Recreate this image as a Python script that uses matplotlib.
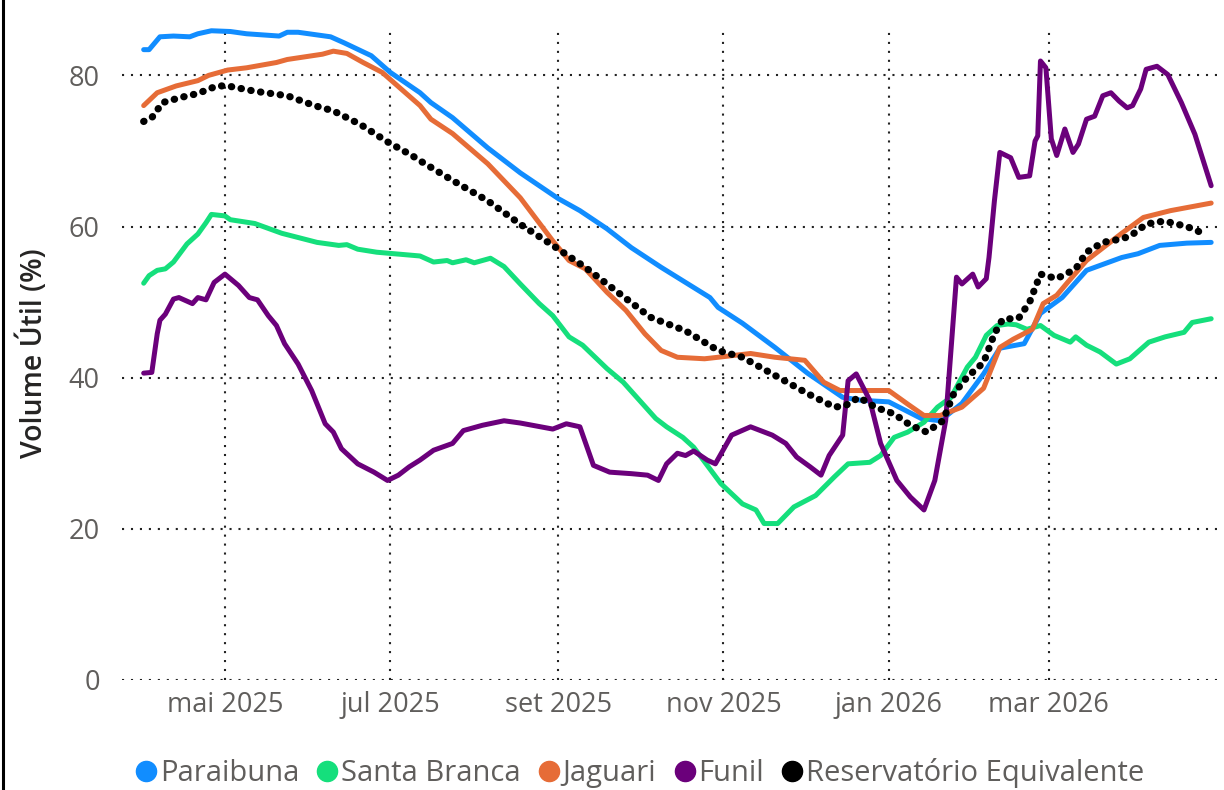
import matplotlib
matplotlib.use("Agg")
import matplotlib.pyplot as plt
import pandas as pd
from matplotlib.lines import Line2D

# ---------------- data ----------------
paraibuna_dates = ["2025-04-01", "2025-04-03", "2025-04-07", "2025-04-12", "2025-04-18", "2025-04-21",
                   "2025-04-26", "2025-05-03", "2025-05-09", "2025-05-21", "2025-05-24", "2025-05-28",
                   "2025-06-09", "2025-06-14", "2025-06-24", "2025-07-01", "2025-07-12", "2025-07-16",
                   "2025-07-24", "2025-08-06", "2025-08-18", "2025-09-01", "2025-09-09", "2025-09-19",
                   "2025-09-28", "2025-10-09", "2025-10-18", "2025-10-27", "2025-10-30", "2025-11-08",
                   "2025-11-20", "2025-12-02", "2025-12-15", "2025-12-22", "2026-01-01", "2026-01-13",
                   "2026-01-20", "2026-01-28", "2026-02-05", "2026-02-11", "2026-02-20", "2026-02-26",
                   "2026-03-06", "2026-03-15", "2026-03-28", "2026-04-03", "2026-04-11", "2026-04-21",
                   "2026-04-30"]
paraibuna_vals = [83.4, 83.4, 85.1, 85.2, 85.1, 85.5,
                  85.9, 85.8, 85.5, 85.2, 85.7, 85.7,
                  85.1, 84.3, 82.6, 80.4, 77.7, 76.4,
                  74.4, 70.4, 67.1, 63.7, 62.1, 59.7,
                  57.2, 54.6, 52.6, 50.6, 49.3, 47.2,
                  44.0, 40.6, 37.4, 37.0, 36.8, 34.6,
                  34.3, 36.6, 40.5, 43.9, 44.5, 48.5,
                  50.6, 54.2, 55.9, 56.4, 57.5, 57.8,
                  57.9]

santa_branca_dates = ["2025-04-01", "2025-04-03", "2025-04-06", "2025-04-09", "2025-04-12", "2025-04-17",
                      "2025-04-21", "2025-04-24", "2025-04-26", "2025-05-01", "2025-05-03", "2025-05-12",
                      "2025-05-22", "2025-06-04", "2025-06-12", "2025-06-15", "2025-06-19", "2025-06-26",
                      "2025-07-12", "2025-07-17", "2025-07-22", "2025-07-24", "2025-07-29", "2025-08-01",
                      "2025-08-07", "2025-08-12", "2025-08-18", "2025-08-25", "2025-08-30", "2025-09-05",
                      "2025-09-10", "2025-09-19", "2025-09-25", "2025-09-30", "2025-10-07", "2025-10-11",
                      "2025-10-17", "2025-10-21", "2025-10-26", "2025-10-31", "2025-11-08", "2025-11-13",
                      "2025-11-16", "2025-11-21", "2025-11-27", "2025-12-05", "2025-12-12", "2025-12-17",
                      "2025-12-25", "2025-12-29", "2026-01-03", "2026-01-08", "2026-01-14", "2026-01-19",
                      "2026-01-24", "2026-01-30", "2026-02-02", "2026-02-06", "2026-02-10", "2026-02-14",
                      "2026-02-17", "2026-02-21", "2026-02-26", "2026-03-03", "2026-03-09", "2026-03-11",
                      "2026-03-15", "2026-03-20", "2026-03-26", "2026-03-31", "2026-04-07", "2026-04-13",
                      "2026-04-20", "2026-04-23", "2026-04-30"]
santa_branca_vals = [52.5, 53.5, 54.2, 54.4, 55.3, 57.7,
                     59.0, 60.5, 61.6, 61.4, 60.9, 60.4,
                     59.1, 57.9, 57.5, 57.6, 57.0, 56.6,
                     56.1, 55.3, 55.5, 55.2, 55.6, 55.2,
                     55.8, 54.7, 52.4, 49.8, 48.2, 45.4,
                     44.3, 41.2, 39.4, 37.4, 34.6, 33.5,
                     32.1, 30.8, 28.4, 26.0, 23.3, 22.5,
                     20.7, 20.7, 22.9, 24.4, 26.9, 28.6,
                     28.8, 29.7, 32.1, 32.8, 34.1, 36.1,
                     37.4, 41.4, 42.7, 45.6, 46.9, 47.1,
                     47.0, 46.4, 46.9, 45.6, 44.7, 45.4,
                     44.3, 43.4, 41.8, 42.5, 44.7, 45.4,
                     46.0, 47.3, 47.8]

jaguari_dates = ["2025-04-01", "2025-04-06", "2025-04-13", "2025-04-21", "2025-04-25", "2025-05-02",
                 "2025-05-09", "2025-05-20", "2025-05-24", "2025-06-06", "2025-06-10", "2025-06-15",
                 "2025-06-21", "2025-06-28", "2025-07-12", "2025-07-16", "2025-07-24", "2025-08-06",
                 "2025-08-18", "2025-08-30", "2025-09-05", "2025-09-11", "2025-09-19", "2025-09-26",
                 "2025-10-03", "2025-10-09", "2025-10-15", "2025-10-25", "2025-10-30", "2025-11-11",
                 "2025-11-20", "2025-12-01", "2025-12-08", "2025-12-14", "2026-01-01", "2026-01-08",
                 "2026-01-14", "2026-01-20", "2026-01-28", "2026-02-05", "2026-02-11", "2026-02-16",
                 "2026-02-23", "2026-02-27", "2026-03-04", "2026-03-08", "2026-03-15", "2026-03-28",
                 "2026-04-05", "2026-04-15", "2026-04-30"]
jaguari_vals = [76.0, 77.7, 78.6, 79.3, 80.0, 80.7,
                81.0, 81.7, 82.1, 82.8, 83.2, 82.9,
                81.7, 80.4, 76.0, 74.2, 72.3, 68.3,
                63.8, 58.1, 55.5, 54.4, 51.3, 48.9,
                45.8, 43.6, 42.7, 42.5, 42.7, 43.2,
                42.7, 42.3, 39.4, 38.3, 38.3, 36.5,
                35.0, 35.0, 36.1, 38.6, 44.0, 45.1,
                46.4, 49.8, 50.9, 52.6, 55.5, 59.1,
                61.2, 62.1, 63.1]

funil_dates = ["2025-04-01", "2025-04-04", "2025-04-06", "2025-04-07", "2025-04-09", "2025-04-12",
               "2025-04-14", "2025-04-19", "2025-04-21", "2025-04-24", "2025-04-27", "2025-05-01",
               "2025-05-06", "2025-05-10", "2025-05-13", "2025-05-17", "2025-05-20", "2025-05-23",
               "2025-05-28", "2025-06-02", "2025-06-07", "2025-06-10", "2025-06-13", "2025-06-19",
               "2025-06-25", "2025-06-30", "2025-07-04", "2025-07-08", "2025-07-12", "2025-07-17",
               "2025-07-24", "2025-07-28", "2025-08-04", "2025-08-12", "2025-08-18", "2025-08-30",
               "2025-09-04", "2025-09-09", "2025-09-14", "2025-09-20", "2025-09-28", "2025-10-04",
               "2025-10-08", "2025-10-11", "2025-10-15", "2025-10-18", "2025-10-21", "2025-10-26",
               "2025-10-29", "2025-11-04", "2025-11-11", "2025-11-19", "2025-11-24", "2025-11-28",
               "2025-12-03", "2025-12-07", "2025-12-10", "2025-12-15", "2025-12-17", "2025-12-20",
               "2025-12-25", "2025-12-29", "2026-01-04", "2026-01-09", "2026-01-14", "2026-01-18",
               "2026-01-22", "2026-01-26", "2026-01-28", "2026-02-01", "2026-02-03", "2026-02-06",
               "2026-02-07", "2026-02-09", "2026-02-11", "2026-02-15", "2026-02-18", "2026-02-22",
               "2026-02-24", "2026-02-25", "2026-02-26", "2026-02-28", "2026-03-02", "2026-03-04",
               "2026-03-07", "2026-03-10", "2026-03-12", "2026-03-15", "2026-03-18", "2026-03-21",
               "2026-03-24", "2026-03-27", "2026-03-30", "2026-04-01", "2026-04-04", "2026-04-06",
               "2026-04-10", "2026-04-14", "2026-04-19", "2026-04-24", "2026-04-30"]
funil_vals = [40.6, 40.7, 45.8, 47.6, 48.4, 50.4,
              50.6, 49.8, 50.6, 50.3, 52.6, 53.7,
              52.2, 50.6, 50.3, 48.2, 46.9, 44.5,
              41.8, 38.3, 33.9, 32.8, 30.6, 28.6,
              27.5, 26.4, 27.1, 28.2, 29.1, 30.4,
              31.3, 33.0, 33.7, 34.3, 34.0, 33.2,
              33.9, 33.5, 28.4, 27.5, 27.3, 27.1,
              26.4, 28.6, 30.0, 29.7, 30.3, 29.1,
              28.6, 32.4, 33.5, 32.4, 31.3, 29.5,
              28.2, 27.1, 29.7, 32.4, 39.6, 40.5,
              37.0, 31.3, 26.4, 24.2, 22.5, 26.4,
              34.3, 53.3, 52.4, 53.7, 52.0, 53.1,
              55.9, 63.4, 69.8, 69.1, 66.5, 66.7,
              71.3, 72.0, 81.9, 81.0, 71.6, 69.4,
              72.9, 69.8, 70.9, 74.2, 74.6, 77.3,
              77.7, 76.6, 75.7, 76.0, 78.2, 80.8,
              81.2, 80.1, 76.4, 72.2, 65.4]

equivalente_dates = ["2025-04-01", "2025-04-04", "2025-04-08", "2025-04-15", "2025-04-21", "2025-04-28",
                     "2025-05-02", "2025-05-12", "2025-05-24", "2025-06-03", "2025-06-10", "2025-06-20",
                     "2025-06-30", "2025-07-09", "2025-07-12", "2025-07-24", "2025-08-06", "2025-08-18",
                     "2025-08-30", "2025-09-11", "2025-09-23", "2025-10-05", "2025-10-18", "2025-10-30",
                     "2025-11-08", "2025-11-20", "2025-12-02", "2025-12-12", "2025-12-16", "2025-12-21",
                     "2025-12-27", "2026-01-03", "2026-01-09", "2026-01-15", "2026-01-21", "2026-01-25",
                     "2026-01-30", "2026-02-05", "2026-02-09", "2026-02-12", "2026-02-18", "2026-02-22",
                     "2026-02-26", "2026-03-04", "2026-03-11", "2026-03-15", "2026-03-21", "2026-03-27",
                     "2026-03-31", "2026-04-06", "2026-04-10", "2026-04-13", "2026-04-21", "2026-04-27"]
equivalente_vals = [73.9, 74.4, 76.4, 77.1, 77.6, 78.6,
                    78.6, 77.9, 77.3, 76.0, 75.3, 73.5,
                    71.2, 69.4, 68.7, 66.1, 63.4, 60.3,
                    57.5, 54.6, 51.3, 48.0, 46.2, 43.6,
                    42.7, 40.3, 37.9, 36.1, 36.3, 37.4,
                    36.1, 35.2, 33.7, 32.8, 34.3, 37.9,
                    40.1, 42.0, 45.8, 47.7, 47.9, 50.0,
                    53.7, 53.1, 54.4, 56.6, 57.9, 58.3,
                    58.7, 60.3, 60.6, 60.7, 60.0, 59.1]

series_names = ["Paraibuna", "Santa Branca", "Jaguari", "Funil", "Reservatório Equivalente"]
series_colors = ["#118DFF", "#15DF7C", "#E66C37", "#6B007B", "#000000"]
y_ticks = [0, 20, 40, 60, 80]
x_tick_dates = ["2025-05-01", "2025-07-01", "2025-09-01", "2025-11-01", "2026-01-01", "2026-03-01"]
x_tick_labels = ["mai 2025", "jul 2025", "set 2025", "nov 2025", "jan 2026", "mar 2026"]
y_label = "Volume Útil (%)"

# ---------------- figure ----------------
plt.rcParams["font.family"] = ["Open Sans", "DejaVu Sans"]
W, H = 1224, 790
fig = plt.figure(figsize=(W / 100, H / 100), dpi=100)
ax = fig.add_axes([122 / W, (H - 680) / H, (1222 - 122) / W, (680 - 30) / H])

grid_kw = dict(color="#222222", lw=1.5, ls=(0, (1.0, 3.3)), zorder=1)
for yv in y_ticks:
    ax.axhline(yv, **grid_kw)
for d in x_tick_dates:
    ax.axvline(pd.Timestamp(d), **grid_kw)

data = [
    (paraibuna_dates, paraibuna_vals),
    (santa_branca_dates, santa_branca_vals),
    (jaguari_dates, jaguari_vals),
    (funil_dates, funil_vals),
    (equivalente_dates, equivalente_vals),
]
for i, ((ds, vs), name, col) in enumerate(zip(data, series_names, series_colors)):
    x = pd.to_datetime(ds)
    if i == 4:
        ax.plot(x, vs, color=col, lw=5.2, ls=(0, (0.05, 1.32)), dash_capstyle="round",
                zorder=6, clip_on=False)
    else:
        ax.plot(x, vs, color=col, lw=3.6, solid_capstyle="round", solid_joinstyle="round",
                zorder=3 + (1 if i == 3 else 0), clip_on=False)

ax.set_xlim(pd.Timestamp("2025-03-24"), pd.Timestamp("2026-05-04"))
ax.set_ylim(0, 86)
ax.set_yticks(y_ticks)
ax.set_yticklabels([str(v) for v in y_ticks])
ax.set_xticks(pd.to_datetime(x_tick_dates))
ax.set_xticklabels(x_tick_labels)
ax.tick_params(axis="both", length=0, labelsize=19.5, labelcolor="#605E5C")
ax.tick_params(axis="y", pad=16)
ax.tick_params(axis="x", pad=8)
for s in ax.spines.values():
    s.set_visible(False)

fig.text(33 / W, 1 - 353 / H, y_label, rotation=90, ha="center", va="center",
         fontsize=20.5, fontweight="semibold", color="#252423")

# legend
handles = [Line2D([], [], marker="o", ls="none", markersize=14.5, markerfacecolor=c,
                  markeredgecolor=c) for c in series_colors]
fig.legend(handles, series_names, loc="center", bbox_to_anchor=(640 / W, 1 - 773 / H),
           ncol=5, frameon=False, fontsize=21, labelcolor="#605E5C",
           handlelength=0.7, handletextpad=0.12, columnspacing=0.62, borderaxespad=0)

# left border line
fig.add_artist(Line2D([3 / W, 3 / W], [0, 1], transform=fig.transFigure, color="black", lw=2.2))

fig.savefig("out.png", dpi=100)
